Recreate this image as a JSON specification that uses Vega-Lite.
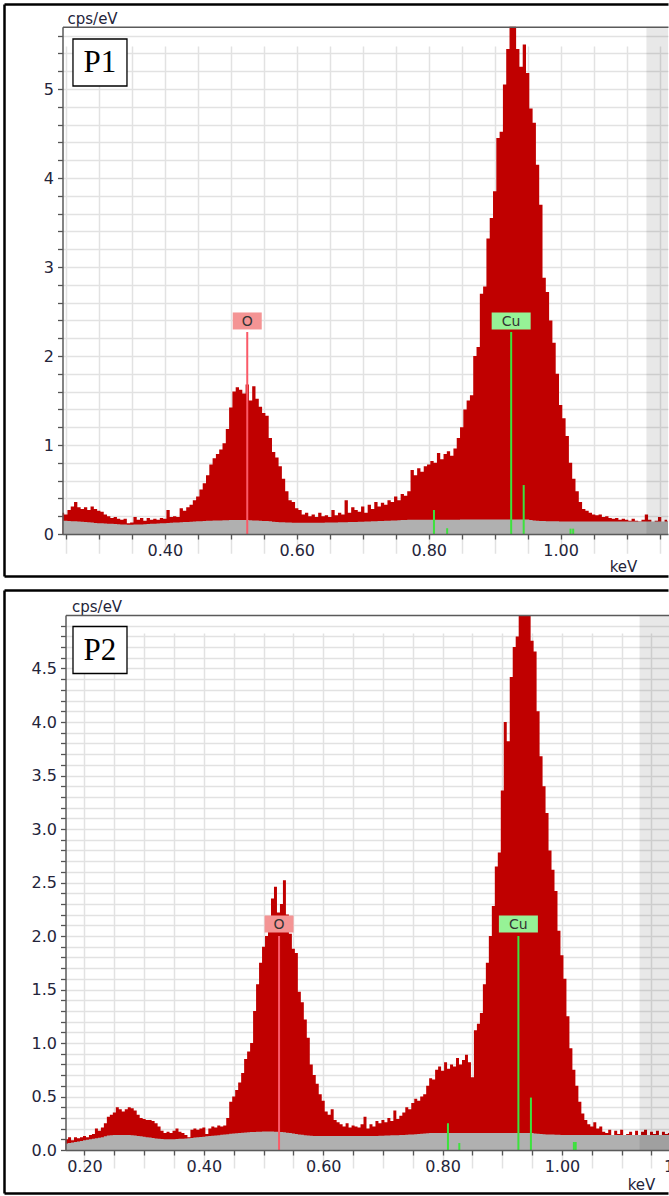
{
  "$schema": "https://vega.github.io/schema/vega-lite/v6.json",
  "padding": {"left": 1, "top": 4, "right": 0, "bottom": 0},
  "spacing": 14,
  "bounds": "flush",
  "config": {
    "view": {"stroke": null},
    "axis": {"labelFont": "DejaVu Sans", "labelFontSize": 16, "labelColor": "#24243a", "titleFont": "DejaVu Sans", "titleFontSize": 15, "titleFontWeight": "normal", "titleColor": "#24243a", "titlePadding": 0}
  },
  "datasets": {
    "p1": [
      {"e":0.245,"c":0.24,"b":0.150},{"e":0.250,"c":0.22,"b":0.148},{"e":0.255,"c":0.27,"b":0.146},{"e":0.260,"c":0.31,"b":0.144},{"e":0.265,"c":0.36,"b":0.142},{"e":0.270,"c":0.30,"b":0.140},{"e":0.275,"c":0.28,"b":0.137},{"e":0.280,"c":0.30,"b":0.134},{"e":0.285,"c":0.27,"b":0.131},{"e":0.290,"c":0.31,"b":0.128},{"e":0.295,"c":0.28,"b":0.125},{"e":0.300,"c":0.26,"b":0.122},{"e":0.305,"c":0.25,"b":0.120},{"e":0.310,"c":0.22,"b":0.118},{"e":0.315,"c":0.20,"b":0.116},{"e":0.320,"c":0.18,"b":0.114},{"e":0.325,"c":0.19,"b":0.112},{"e":0.330,"c":0.17,"b":0.110},{"e":0.335,"c":0.16,"b":0.108},{"e":0.340,"c":0.17,"b":0.106},{"e":0.345,"c":0.12,"b":0.105},{"e":0.350,"c":0.13,"b":0.105},{"e":0.355,"c":0.19,"b":0.106},{"e":0.360,"c":0.16,"b":0.107},{"e":0.365,"c":0.18,"b":0.108},{"e":0.370,"c":0.15,"b":0.110},{"e":0.375,"c":0.18,"b":0.112},{"e":0.380,"c":0.16,"b":0.114},{"e":0.385,"c":0.17,"b":0.116},{"e":0.390,"c":0.16,"b":0.118},{"e":0.395,"c":0.18,"b":0.120},{"e":0.400,"c":0.17,"b":0.122},{"e":0.405,"c":0.27,"b":0.124},{"e":0.410,"c":0.19,"b":0.126},{"e":0.415,"c":0.20,"b":0.128},{"e":0.420,"c":0.19,"b":0.130},{"e":0.425,"c":0.29,"b":0.132},{"e":0.430,"c":0.26,"b":0.134},{"e":0.435,"c":0.30,"b":0.136},{"e":0.440,"c":0.33,"b":0.138},{"e":0.445,"c":0.38,"b":0.140},{"e":0.450,"c":0.42,"b":0.142},{"e":0.455,"c":0.50,"b":0.144},{"e":0.460,"c":0.57,"b":0.146},{"e":0.465,"c":0.66,"b":0.148},{"e":0.470,"c":0.78,"b":0.150},{"e":0.475,"c":0.85,"b":0.151},{"e":0.480,"c":0.90,"b":0.152},{"e":0.485,"c":0.95,"b":0.153},{"e":0.490,"c":1.02,"b":0.154},{"e":0.495,"c":1.18,"b":0.155},{"e":0.500,"c":1.42,"b":0.156},{"e":0.505,"c":1.60,"b":0.156},{"e":0.510,"c":1.65,"b":0.157},{"e":0.515,"c":1.62,"b":0.157},{"e":0.520,"c":1.58,"b":0.157},{"e":0.525,"c":1.68,"b":0.156},{"e":0.530,"c":1.50,"b":0.155},{"e":0.535,"c":1.66,"b":0.153},{"e":0.540,"c":1.52,"b":0.151},{"e":0.545,"c":1.43,"b":0.149},{"e":0.550,"c":1.36,"b":0.147},{"e":0.555,"c":1.33,"b":0.145},{"e":0.560,"c":1.08,"b":0.142},{"e":0.565,"c":0.92,"b":0.139},{"e":0.570,"c":0.86,"b":0.136},{"e":0.575,"c":0.76,"b":0.133},{"e":0.580,"c":0.62,"b":0.131},{"e":0.585,"c":0.48,"b":0.129},{"e":0.590,"c":0.38,"b":0.128},{"e":0.595,"c":0.36,"b":0.127},{"e":0.600,"c":0.29,"b":0.126},{"e":0.605,"c":0.27,"b":0.126},{"e":0.610,"c":0.22,"b":0.126},{"e":0.615,"c":0.24,"b":0.126},{"e":0.620,"c":0.20,"b":0.126},{"e":0.625,"c":0.22,"b":0.126},{"e":0.630,"c":0.19,"b":0.127},{"e":0.635,"c":0.24,"b":0.127},{"e":0.640,"c":0.20,"b":0.127},{"e":0.645,"c":0.21,"b":0.128},{"e":0.650,"c":0.19,"b":0.128},{"e":0.655,"c":0.27,"b":0.129},{"e":0.660,"c":0.21,"b":0.130},{"e":0.665,"c":0.24,"b":0.131},{"e":0.670,"c":0.22,"b":0.132},{"e":0.675,"c":0.38,"b":0.133},{"e":0.680,"c":0.24,"b":0.134},{"e":0.685,"c":0.30,"b":0.135},{"e":0.690,"c":0.27,"b":0.136},{"e":0.695,"c":0.25,"b":0.137},{"e":0.700,"c":0.31,"b":0.138},{"e":0.705,"c":0.24,"b":0.140},{"e":0.710,"c":0.33,"b":0.141},{"e":0.715,"c":0.28,"b":0.143},{"e":0.720,"c":0.36,"b":0.144},{"e":0.725,"c":0.31,"b":0.146},{"e":0.730,"c":0.35,"b":0.147},{"e":0.735,"c":0.33,"b":0.149},{"e":0.740,"c":0.38,"b":0.150},{"e":0.745,"c":0.36,"b":0.152},{"e":0.750,"c":0.42,"b":0.153},{"e":0.755,"c":0.38,"b":0.155},{"e":0.760,"c":0.45,"b":0.157},{"e":0.765,"c":0.43,"b":0.158},{"e":0.770,"c":0.48,"b":0.159},{"e":0.775,"c":0.72,"b":0.160},{"e":0.780,"c":0.66,"b":0.160},{"e":0.785,"c":0.74,"b":0.160},{"e":0.790,"c":0.70,"b":0.160},{"e":0.795,"c":0.76,"b":0.160},{"e":0.800,"c":0.78,"b":0.160},{"e":0.805,"c":0.82,"b":0.160},{"e":0.810,"c":0.80,"b":0.161},{"e":0.815,"c":0.91,"b":0.161},{"e":0.820,"c":0.84,"b":0.161},{"e":0.825,"c":0.90,"b":0.161},{"e":0.830,"c":0.93,"b":0.161},{"e":0.835,"c":0.88,"b":0.161},{"e":0.840,"c":0.96,"b":0.161},{"e":0.845,"c":1.08,"b":0.161},{"e":0.850,"c":1.20,"b":0.162},{"e":0.855,"c":1.40,"b":0.162},{"e":0.860,"c":1.50,"b":0.162},{"e":0.865,"c":1.56,"b":0.162},{"e":0.870,"c":2.00,"b":0.162},{"e":0.875,"c":2.10,"b":0.162},{"e":0.880,"c":2.70,"b":0.162},{"e":0.885,"c":2.78,"b":0.162},{"e":0.890,"c":3.32,"b":0.162},{"e":0.895,"c":3.55,"b":0.162},{"e":0.900,"c":3.85,"b":0.162},{"e":0.905,"c":4.45,"b":0.162},{"e":0.910,"c":4.52,"b":0.162},{"e":0.915,"c":5.05,"b":0.162},{"e":0.920,"c":5.45,"b":0.162},{"e":0.925,"c":5.90,"b":0.162},{"e":0.930,"c":5.80,"b":0.162},{"e":0.935,"c":5.45,"b":0.162},{"e":0.940,"c":5.25,"b":0.162},{"e":0.945,"c":5.50,"b":0.162},{"e":0.950,"c":5.18,"b":0.162},{"e":0.955,"c":4.78,"b":0.158},{"e":0.960,"c":4.62,"b":0.152},{"e":0.965,"c":4.15,"b":0.148},{"e":0.970,"c":3.70,"b":0.146},{"e":0.975,"c":2.88,"b":0.145},{"e":0.980,"c":2.72,"b":0.144},{"e":0.985,"c":2.40,"b":0.143},{"e":0.990,"c":2.15,"b":0.142},{"e":0.995,"c":1.80,"b":0.142},{"e":1.000,"c":1.45,"b":0.141},{"e":1.005,"c":1.30,"b":0.141},{"e":1.010,"c":1.10,"b":0.141},{"e":1.015,"c":0.80,"b":0.140},{"e":1.020,"c":0.62,"b":0.140},{"e":1.025,"c":0.48,"b":0.140},{"e":1.030,"c":0.36,"b":0.140},{"e":1.035,"c":0.28,"b":0.140},{"e":1.040,"c":0.26,"b":0.140},{"e":1.045,"c":0.24,"b":0.140},{"e":1.050,"c":0.22,"b":0.140},{"e":1.055,"c":0.21,"b":0.140},{"e":1.060,"c":0.22,"b":0.140},{"e":1.065,"c":0.19,"b":0.140},{"e":1.070,"c":0.20,"b":0.140},{"e":1.075,"c":0.18,"b":0.140},{"e":1.080,"c":0.17,"b":0.140},{"e":1.085,"c":0.18,"b":0.140},{"e":1.090,"c":0.16,"b":0.140},{"e":1.095,"c":0.17,"b":0.140},{"e":1.100,"c":0.16,"b":0.140},{"e":1.105,"c":0.15,"b":0.140},{"e":1.110,"c":0.17,"b":0.140},{"e":1.115,"c":0.15,"b":0.140},{"e":1.120,"c":0.14,"b":0.140},{"e":1.125,"c":0.16,"b":0.140},{"e":1.130,"c":0.22,"b":0.140},{"e":1.135,"c":0.16,"b":0.140},{"e":1.140,"c":0.12,"b":0.140},{"e":1.145,"c":0.15,"b":0.140},{"e":1.150,"c":0.19,"b":0.140},{"e":1.155,"c":0.13,"b":0.140},{"e":1.160,"c":0.16,"b":0.140},{"e":1.165,"c":0.14,"b":0.140}
    ],
    "p2": [
      {"e":0.165,"c":0.10,"b":0.055},{"e":0.170,"c":0.10,"b":0.060},{"e":0.175,"c":0.12,"b":0.065},{"e":0.180,"c":0.09,"b":0.070},{"e":0.185,"c":0.12,"b":0.075},{"e":0.190,"c":0.11,"b":0.080},{"e":0.195,"c":0.12,"b":0.085},{"e":0.200,"c":0.13,"b":0.090},{"e":0.205,"c":0.12,"b":0.095},{"e":0.210,"c":0.14,"b":0.100},{"e":0.215,"c":0.15,"b":0.105},{"e":0.220,"c":0.20,"b":0.110},{"e":0.225,"c":0.18,"b":0.115},{"e":0.230,"c":0.21,"b":0.120},{"e":0.235,"c":0.25,"b":0.128},{"e":0.240,"c":0.31,"b":0.135},{"e":0.245,"c":0.33,"b":0.138},{"e":0.250,"c":0.35,"b":0.140},{"e":0.255,"c":0.40,"b":0.140},{"e":0.260,"c":0.38,"b":0.140},{"e":0.265,"c":0.36,"b":0.140},{"e":0.270,"c":0.38,"b":0.140},{"e":0.275,"c":0.40,"b":0.140},{"e":0.280,"c":0.39,"b":0.138},{"e":0.285,"c":0.37,"b":0.135},{"e":0.290,"c":0.33,"b":0.132},{"e":0.295,"c":0.30,"b":0.128},{"e":0.300,"c":0.29,"b":0.124},{"e":0.305,"c":0.28,"b":0.120},{"e":0.310,"c":0.28,"b":0.116},{"e":0.315,"c":0.27,"b":0.112},{"e":0.320,"c":0.25,"b":0.108},{"e":0.325,"c":0.22,"b":0.105},{"e":0.330,"c":0.18,"b":0.102},{"e":0.335,"c":0.16,"b":0.100},{"e":0.340,"c":0.17,"b":0.100},{"e":0.345,"c":0.16,"b":0.100},{"e":0.350,"c":0.18,"b":0.101},{"e":0.355,"c":0.20,"b":0.102},{"e":0.360,"c":0.17,"b":0.104},{"e":0.365,"c":0.16,"b":0.106},{"e":0.370,"c":0.14,"b":0.108},{"e":0.375,"c":0.12,"b":0.110},{"e":0.380,"c":0.19,"b":0.113},{"e":0.385,"c":0.20,"b":0.116},{"e":0.390,"c":0.19,"b":0.119},{"e":0.395,"c":0.20,"b":0.122},{"e":0.400,"c":0.21,"b":0.125},{"e":0.405,"c":0.15,"b":0.128},{"e":0.410,"c":0.20,"b":0.131},{"e":0.415,"c":0.22,"b":0.134},{"e":0.420,"c":0.21,"b":0.136},{"e":0.425,"c":0.23,"b":0.139},{"e":0.430,"c":0.22,"b":0.142},{"e":0.435,"c":0.23,"b":0.145},{"e":0.440,"c":0.30,"b":0.148},{"e":0.445,"c":0.45,"b":0.151},{"e":0.450,"c":0.50,"b":0.154},{"e":0.455,"c":0.56,"b":0.157},{"e":0.460,"c":0.63,"b":0.160},{"e":0.465,"c":0.72,"b":0.162},{"e":0.470,"c":0.85,"b":0.164},{"e":0.475,"c":0.92,"b":0.166},{"e":0.480,"c":1.00,"b":0.168},{"e":0.485,"c":1.30,"b":0.169},{"e":0.490,"c":1.55,"b":0.170},{"e":0.495,"c":1.75,"b":0.171},{"e":0.500,"c":1.90,"b":0.172},{"e":0.505,"c":2.00,"b":0.172},{"e":0.510,"c":2.08,"b":0.172},{"e":0.515,"c":2.35,"b":0.172},{"e":0.520,"c":2.46,"b":0.171},{"e":0.525,"c":2.22,"b":0.170},{"e":0.530,"c":2.30,"b":0.168},{"e":0.535,"c":2.52,"b":0.165},{"e":0.540,"c":2.20,"b":0.162},{"e":0.545,"c":2.02,"b":0.158},{"e":0.550,"c":1.88,"b":0.154},{"e":0.555,"c":1.84,"b":0.150},{"e":0.560,"c":1.48,"b":0.146},{"e":0.565,"c":1.38,"b":0.142},{"e":0.570,"c":1.22,"b":0.139},{"e":0.575,"c":1.05,"b":0.136},{"e":0.580,"c":0.80,"b":0.134},{"e":0.585,"c":0.70,"b":0.132},{"e":0.590,"c":0.62,"b":0.131},{"e":0.595,"c":0.52,"b":0.130},{"e":0.600,"c":0.46,"b":0.130},{"e":0.605,"c":0.36,"b":0.130},{"e":0.610,"c":0.33,"b":0.130},{"e":0.615,"c":0.38,"b":0.130},{"e":0.620,"c":0.28,"b":0.130},{"e":0.625,"c":0.26,"b":0.130},{"e":0.630,"c":0.24,"b":0.130},{"e":0.635,"c":0.22,"b":0.130},{"e":0.640,"c":0.25,"b":0.130},{"e":0.645,"c":0.21,"b":0.130},{"e":0.650,"c":0.23,"b":0.130},{"e":0.655,"c":0.22,"b":0.130},{"e":0.660,"c":0.21,"b":0.130},{"e":0.665,"c":0.24,"b":0.130},{"e":0.670,"c":0.31,"b":0.130},{"e":0.675,"c":0.20,"b":0.131},{"e":0.680,"c":0.24,"b":0.131},{"e":0.685,"c":0.22,"b":0.132},{"e":0.690,"c":0.27,"b":0.132},{"e":0.695,"c":0.25,"b":0.133},{"e":0.700,"c":0.28,"b":0.134},{"e":0.705,"c":0.26,"b":0.135},{"e":0.710,"c":0.30,"b":0.136},{"e":0.715,"c":0.27,"b":0.137},{"e":0.720,"c":0.37,"b":0.138},{"e":0.725,"c":0.29,"b":0.139},{"e":0.730,"c":0.32,"b":0.140},{"e":0.735,"c":0.35,"b":0.141},{"e":0.740,"c":0.40,"b":0.142},{"e":0.745,"c":0.38,"b":0.144},{"e":0.750,"c":0.44,"b":0.146},{"e":0.755,"c":0.48,"b":0.148},{"e":0.760,"c":0.46,"b":0.150},{"e":0.765,"c":0.50,"b":0.152},{"e":0.770,"c":0.52,"b":0.154},{"e":0.775,"c":0.60,"b":0.156},{"e":0.780,"c":0.67,"b":0.158},{"e":0.785,"c":0.66,"b":0.160},{"e":0.790,"c":0.75,"b":0.160},{"e":0.795,"c":0.78,"b":0.160},{"e":0.800,"c":0.74,"b":0.160},{"e":0.805,"c":0.82,"b":0.160},{"e":0.810,"c":0.76,"b":0.160},{"e":0.815,"c":0.80,"b":0.160},{"e":0.820,"c":0.78,"b":0.160},{"e":0.825,"c":0.86,"b":0.160},{"e":0.830,"c":0.80,"b":0.160},{"e":0.835,"c":0.84,"b":0.160},{"e":0.840,"c":0.89,"b":0.160},{"e":0.845,"c":0.82,"b":0.160},{"e":0.850,"c":0.68,"b":0.160},{"e":0.855,"c":1.12,"b":0.160},{"e":0.860,"c":1.18,"b":0.160},{"e":0.865,"c":1.28,"b":0.160},{"e":0.870,"c":1.55,"b":0.160},{"e":0.875,"c":1.75,"b":0.160},{"e":0.880,"c":2.00,"b":0.160},{"e":0.885,"c":2.28,"b":0.160},{"e":0.890,"c":2.65,"b":0.160},{"e":0.895,"c":2.78,"b":0.160},{"e":0.900,"c":3.36,"b":0.160},{"e":0.905,"c":4.00,"b":0.160},{"e":0.910,"c":3.82,"b":0.160},{"e":0.915,"c":4.42,"b":0.160},{"e":0.920,"c":4.70,"b":0.160},{"e":0.925,"c":4.80,"b":0.160},{"e":0.930,"c":5.20,"b":0.160},{"e":0.935,"c":5.30,"b":0.160},{"e":0.940,"c":5.20,"b":0.160},{"e":0.945,"c":5.10,"b":0.160},{"e":0.950,"c":4.76,"b":0.158},{"e":0.955,"c":4.66,"b":0.155},{"e":0.960,"c":4.10,"b":0.152},{"e":0.965,"c":3.68,"b":0.150},{"e":0.970,"c":3.40,"b":0.148},{"e":0.975,"c":3.15,"b":0.146},{"e":0.980,"c":2.80,"b":0.145},{"e":0.985,"c":2.62,"b":0.144},{"e":0.990,"c":2.42,"b":0.143},{"e":0.995,"c":2.05,"b":0.142},{"e":1.000,"c":1.82,"b":0.141},{"e":1.005,"c":1.60,"b":0.141},{"e":1.010,"c":1.25,"b":0.140},{"e":1.015,"c":0.95,"b":0.140},{"e":1.020,"c":0.75,"b":0.140},{"e":1.025,"c":0.60,"b":0.140},{"e":1.030,"c":0.45,"b":0.140},{"e":1.035,"c":0.34,"b":0.140},{"e":1.040,"c":0.28,"b":0.140},{"e":1.045,"c":0.24,"b":0.140},{"e":1.050,"c":0.22,"b":0.140},{"e":1.055,"c":0.26,"b":0.140},{"e":1.060,"c":0.20,"b":0.140},{"e":1.065,"c":0.22,"b":0.140},{"e":1.070,"c":0.17,"b":0.140},{"e":1.075,"c":0.16,"b":0.140},{"e":1.080,"c":0.19,"b":0.140},{"e":1.085,"c":0.13,"b":0.140},{"e":1.090,"c":0.18,"b":0.140},{"e":1.095,"c":0.15,"b":0.140},{"e":1.100,"c":0.19,"b":0.140},{"e":1.105,"c":0.13,"b":0.140},{"e":1.110,"c":0.15,"b":0.140},{"e":1.115,"c":0.17,"b":0.140},{"e":1.120,"c":0.12,"b":0.140},{"e":1.125,"c":0.18,"b":0.140},{"e":1.130,"c":0.14,"b":0.140},{"e":1.135,"c":0.17,"b":0.140},{"e":1.140,"c":0.19,"b":0.140},{"e":1.145,"c":0.13,"b":0.140},{"e":1.150,"c":0.17,"b":0.140},{"e":1.155,"c":0.15,"b":0.140},{"e":1.160,"c":0.18,"b":0.140},{"e":1.165,"c":0.14,"b":0.140},{"e":1.170,"c":0.17,"b":0.140},{"e":1.175,"c":0.15,"b":0.140},{"e":1.180,"c":0.16,"b":0.140}
    ],
    "el1": [
      {"e":0.525,"h":2.27,"el":"O","lab":"O"},{"e":0.925,"h":2.27,"el":"Cu","lab":"Cu"},{"e":0.808,"h":0.27,"el":"Cu","lab":""},{"e":0.828,"h":0.065,"el":"Cu","lab":""},{"e":0.944,"h":0.55,"el":"Cu","lab":""},{"e":1.015,"h":0.06,"el":"Cu","lab":""},{"e":1.019,"h":0.06,"el":"Cu","lab":""}
    ],
    "el2": [
      {"e":0.526,"h":2.0,"el":"O","lab":"O"},{"e":0.927,"h":2.0,"el":"Cu","lab":"Cu"},{"e":0.809,"h":0.25,"el":"Cu","lab":""},{"e":0.828,"h":0.065,"el":"Cu","lab":""},{"e":0.948,"h":0.49,"el":"Cu","lab":""},{"e":1.020,"h":0.075,"el":"Cu","lab":""},{"e":1.023,"h":0.075,"el":"Cu","lab":""}
    ]
  },
  "vconcat": [
    {
      "width": 664,
      "height": 572,
      "resolve": {"scale": {"x": "independent", "y": "independent", "color": "independent"}, "axis": {"x": "independent", "y": "independent"}},
      "layer": [
        {
          "data": {"name": "p1"},
          "mark": {"type": "area", "interpolate": "step", "color": "#c00000"},
          "encoding": {
            "x": {"field": "e", "type": "quantitative", "scale": {"domain": [0.245, 1.1627], "range": [58.5, 664], "clamp": true, "nice": false, "zero": false},
              "axis": {"orient": "bottom", "offset": -42, "values": [0.25,0.3,0.35,0.4,0.45,0.5,0.55,0.6,0.65,0.7,0.75,0.8,0.85,0.9,0.95,1,1.05,1.1,1.15], "format": ".2f", "labelExpr": "round(datum.value*100) % 20 === 0 ? datum.label : ''", "grid": true, "gridColor": "#e2e2e2", "gridWidth": 1.5, "domain": false, "tickSize": 5, "tickColor": "#555555", "tickWidth": 1.3, "labelPadding": 3, "labelFlush": false, "labelOverlap": false, "labelBound": false, "title": "keV", "titleX": 619, "titleY": 37, "titleAlign": "center", "titleBaseline": "alphabetic", "titleAngle": 0, "zindex": 0}},
            "y": {"field": "c", "type": "quantitative", "scale": {"domain": [0, 5.7], "range": [530, 22.7], "clamp": true, "nice": false, "zero": false},
              "axis": {"orient": "left", "offset": -58.5, "values": [0,0.2,0.4,0.6,0.8,1,1.2,1.4,1.6,1.8,2,2.2,2.4,2.6,2.8,3,3.2,3.4,3.6,3.8,4,4.2,4.4,4.6,4.8,5,5.2,5.4,5.6], "format": ".0f", "labelExpr": "datum.value % 1 === 0 ? datum.label : ''", "grid": true, "gridColor": "#e2e2e2", "gridWidth": 1.5, "domain": false, "tickSize": 5, "tickColor": "#555555", "tickWidth": 1.3, "labelPadding": 4, "labelOverlap": false, "labelBound": false, "labelFlush": false, "title": "cps/eV", "titleX": 4.5, "titleY": 19, "titleAlign": "left", "titleBaseline": "alphabetic", "titleAngle": 0, "zindex": 0}},
            "y2": {"datum": 0}
          }
        },
        {
          "data": {"name": "p1"},
          "mark": {"type": "area", "interpolate": "step", "color": "#b0b0b0"},
          "encoding": {
            "x": {"field": "e", "type": "quantitative", "scale": {"domain": [0.245, 1.1627], "range": [58.5, 664], "clamp": true, "nice": false, "zero": false},
              "axis": {"orient": "top", "offset": -22.7, "domain": true, "domainColor": "#5a5a5a", "domainWidth": 1.5, "ticks": false, "labels": false, "grid": false, "title": null, "zindex": 1}},
            "y": {"field": "b", "type": "quantitative", "scale": {"domain": [0, 5.7], "range": [530, 22.7], "clamp": true, "nice": false, "zero": false},
              "axis": {"orient": "left", "offset": -58.5, "domain": true, "domainColor": "#5a5a5a", "domainWidth": 1.5, "ticks": false, "labels": false, "grid": false, "title": null, "zindex": 1}},
            "y2": {"datum": 0}
          }
        },
        {
          "data": {"values": [{"a": 1.13, "z": 1.25}]},
          "mark": {"type": "rect", "color": "#000000", "opacity": 0.09},
          "encoding": {
            "x": {"field": "a", "type": "quantitative", "scale": {"domain": [0.245, 1.1627], "range": [58.5, 664], "clamp": true, "nice": false, "zero": false},
              "axis": {"orient": "bottom", "offset": -42, "domain": true, "domainColor": "#5a5a5a", "domainWidth": 1.5, "ticks": false, "labels": false, "grid": false, "title": null, "zindex": 1}},
            "x2": {"field": "z"},
            "y": {"datum": 0, "scale": {"domain": [0, 5.7], "range": [530, 22.7], "clamp": true, "nice": false, "zero": false}, "axis": null},
            "y2": {"datum": 5.7}
          }
        },
        {
          "data": {"name": "el1"},
          "mark": {"type": "rule", "strokeWidth": 2},
          "encoding": {
            "x": {"field": "e", "type": "quantitative", "scale": {"domain": [0.245, 1.1627], "range": [58.5, 664], "clamp": true, "nice": false, "zero": false}, "axis": null},
            "y": {"field": "h", "type": "quantitative", "scale": {"domain": [0, 5.7], "range": [530, 22.7], "clamp": true, "nice": false, "zero": false}, "axis": null},
            "y2": {"datum": 0},
            "color": {"field": "el", "type": "nominal", "scale": {"domain": ["O", "Cu"], "range": ["#fa5a68", "#3de23d"]}, "legend": null}
          }
        },
        {
          "data": {"name": "el1"},
          "transform": [{"filter": "datum.lab !== ''"}],
          "mark": {"type": "point", "filled": true, "opacity": 1, "size": 400, "yOffset": -11},
          "encoding": {
            "x": {"field": "e", "type": "quantitative", "scale": {"domain": [0.245, 1.1627], "range": [58.5, 664], "clamp": true, "nice": false, "zero": false}, "axis": null},
            "y": {"field": "h", "type": "quantitative", "scale": {"domain": [0, 5.7], "range": [530, 22.7], "clamp": true, "nice": false, "zero": false}, "axis": null},
            "shape": {"field": "el", "type": "nominal", "scale": {"domain": ["O", "Cu"], "range": ["M-1.45,-0.85H1.45V0.85H-1.45Z", "M-1.95,-0.85H1.95V0.85H-1.95Z"]}, "legend": null},
            "color": {"field": "el", "type": "nominal", "scale": {"domain": ["O", "Cu"], "range": ["#f49494", "#96f296"]}, "legend": null}
          }
        },
        {
          "data": {"name": "el1"},
          "transform": [{"filter": "datum.lab !== ''"}],
          "mark": {"type": "text", "yOffset": -10, "baseline": "middle", "align": "center", "font": "DejaVu Sans", "fontSize": 14, "color": "#333333"},
          "encoding": {
            "x": {"field": "e", "type": "quantitative", "scale": {"domain": [0.245, 1.1627], "range": [58.5, 664], "clamp": true, "nice": false, "zero": false}, "axis": null},
            "y": {"field": "h", "type": "quantitative", "scale": {"domain": [0, 5.7], "range": [530, 22.7], "clamp": true, "nice": false, "zero": false}, "axis": null},
            "text": {"field": "lab"}
          }
        },
        {
          "data": {"values": [{"t": "P1"}]},
          "mark": {"type": "point", "shape": "M-2.7,-2.35H2.7V2.35H-2.7Z", "size": 400, "filled": true, "fill": "#ffffff", "stroke": "#000000", "strokeWidth": 1.3, "opacity": 1},
          "encoding": {
            "x": {"datum": 0.3018, "type": "quantitative", "scale": {"domain": [0.245, 1.1627], "range": [58.5, 664], "clamp": true, "nice": false, "zero": false}, "axis": null},
            "y": {"datum": 5.298, "type": "quantitative", "scale": {"domain": [0, 5.7], "range": [530, 22.7], "clamp": true, "nice": false, "zero": false}, "axis": null}
          }
        },
        {
          "data": {"values": [{"t": "P1"}]},
          "mark": {"type": "text", "font": "Liberation Serif", "fontSize": 31, "baseline": "middle", "align": "center", "color": "#000000", "dy": 1},
          "encoding": {
            "x": {"datum": 0.3018, "type": "quantitative", "scale": {"domain": [0.245, 1.1627], "range": [58.5, 664], "clamp": true, "nice": false, "zero": false}, "axis": null},
            "y": {"datum": 5.298, "type": "quantitative", "scale": {"domain": [0, 5.7], "range": [530, 22.7], "clamp": true, "nice": false, "zero": false}, "axis": null},
            "text": {"field": "t"}
          }
        },
        {
          "data": {"values": [{"f": 0}]},
          "mark": {"type": "point", "opacity": 0},
          "encoding": {
            "x": {"field": "f", "type": "quantitative", "scale": {"domain": [0, 1], "range": [0, 664], "nice": false, "zero": false},
              "axis": {"orient": "bottom", "offset": 0, "domain": true, "domainColor": "#000000", "domainWidth": 2.5, "ticks": false, "labels": false, "grid": false, "title": null, "zindex": 2}},
            "y": {"field": "f", "type": "quantitative", "scale": {"domain": [0, 1], "range": [572, 0], "nice": false, "zero": false},
              "axis": {"orient": "left", "offset": 0, "domain": true, "domainColor": "#000000", "domainWidth": 2.5, "ticks": false, "labels": false, "grid": false, "title": null, "zindex": 2}}
          }
        },
        {
          "data": {"values": [{"f": 0}]},
          "mark": {"type": "point", "opacity": 0},
          "encoding": {
            "x": {"field": "f", "type": "quantitative", "scale": {"domain": [0, 1], "range": [0, 664], "nice": false, "zero": false},
              "axis": {"orient": "top", "offset": 0, "domain": true, "domainColor": "#000000", "domainWidth": 2.5, "ticks": false, "labels": false, "grid": false, "title": null, "zindex": 2}},
            "y": {"field": "f", "type": "quantitative", "scale": {"domain": [0, 1], "range": [572, 0], "nice": false, "zero": false}, "axis": null}
          }
        }
      ]
    },
    {
      "width": 664,
      "height": 603,
      "resolve": {"scale": {"x": "independent", "y": "independent", "color": "independent"}, "axis": {"x": "independent", "y": "independent"}},
      "layer": [
        {
          "data": {"name": "p2"},
          "mark": {"type": "area", "interpolate": "step", "color": "#c00000"},
          "encoding": {
            "x": {"field": "e", "type": "quantitative", "scale": {"domain": [0.1682, 1.21], "range": [61.5, 683.3], "clamp": true, "nice": false, "zero": false},
              "axis": {"orient": "bottom", "offset": -43, "values": [0.2,0.25,0.3,0.35,0.4,0.45,0.5,0.55,0.6,0.65,0.7,0.75,0.8,0.85,0.9,0.95,1,1.05,1.1,1.15,1.2], "format": ".2f", "labelExpr": "round(datum.value*100) % 20 === 0 ? datum.label : ''", "grid": true, "gridColor": "#e2e2e2", "gridWidth": 1.5, "domain": false, "tickSize": 5, "tickColor": "#555555", "tickWidth": 1.3, "labelPadding": 3, "labelFlush": false, "labelOverlap": false, "labelBound": false, "title": "keV", "titleX": 637, "titleY": 39, "titleAlign": "center", "titleBaseline": "alphabetic", "titleAngle": 0, "zindex": 0}},
            "y": {"field": "c", "type": "quantitative", "scale": {"domain": [0, 5], "range": [560, 25], "clamp": true, "nice": false, "zero": false},
              "axis": {"orient": "left", "offset": -61.5, "values": [0,0.1,0.2,0.3,0.4,0.5,0.6,0.7,0.8,0.9,1,1.1,1.2,1.3,1.4,1.5,1.6,1.7,1.8,1.9,2,2.1,2.2,2.3,2.4,2.5,2.6,2.7,2.8,2.9,3,3.1,3.2,3.3,3.4,3.5,3.6,3.7,3.8,3.9,4,4.1,4.2,4.3,4.4,4.5,4.6,4.7,4.8,4.9], "format": ".1f", "labelExpr": "round(datum.value*10) % 5 === 0 ? datum.label : ''", "grid": true, "gridColor": "#e2e2e2", "gridWidth": 1.5, "domain": false, "tickSize": 5, "tickColor": "#555555", "tickWidth": 1.3, "labelPadding": 4, "labelOverlap": false, "labelBound": false, "labelFlush": false, "title": "cps/eV", "titleX": 6, "titleY": 21, "titleAlign": "left", "titleBaseline": "alphabetic", "titleAngle": 0, "zindex": 0}},
            "y2": {"datum": 0}
          }
        },
        {
          "data": {"name": "p2"},
          "mark": {"type": "area", "interpolate": "step", "color": "#b0b0b0"},
          "encoding": {
            "x": {"field": "e", "type": "quantitative", "scale": {"domain": [0.1682, 1.21], "range": [61.5, 683.3], "clamp": true, "nice": false, "zero": false},
              "axis": {"orient": "top", "offset": -25, "domain": true, "domainColor": "#5a5a5a", "domainWidth": 1.5, "ticks": false, "labels": false, "grid": false, "title": null, "zindex": 1}},
            "y": {"field": "b", "type": "quantitative", "scale": {"domain": [0, 5], "range": [560, 25], "clamp": true, "nice": false, "zero": false},
              "axis": {"orient": "left", "offset": -61.5, "domain": true, "domainColor": "#5a5a5a", "domainWidth": 1.5, "ticks": false, "labels": false, "grid": false, "title": null, "zindex": 1}},
            "y2": {"datum": 0}
          }
        },
        {
          "data": {"values": [{"a": 1.13, "z": 1.25}]},
          "mark": {"type": "rect", "color": "#000000", "opacity": 0.09},
          "encoding": {
            "x": {"field": "a", "type": "quantitative", "scale": {"domain": [0.1682, 1.21], "range": [61.5, 683.3], "clamp": true, "nice": false, "zero": false},
              "axis": {"orient": "bottom", "offset": -43, "domain": true, "domainColor": "#5a5a5a", "domainWidth": 1.5, "ticks": false, "labels": false, "grid": false, "title": null, "zindex": 1}},
            "x2": {"field": "z"},
            "y": {"datum": 0, "scale": {"domain": [0, 5], "range": [560, 25], "clamp": true, "nice": false, "zero": false}, "axis": null},
            "y2": {"datum": 5}
          }
        },
        {
          "data": {"name": "el2"},
          "mark": {"type": "rule", "strokeWidth": 2},
          "encoding": {
            "x": {"field": "e", "type": "quantitative", "scale": {"domain": [0.1682, 1.21], "range": [61.5, 683.3], "clamp": true, "nice": false, "zero": false}, "axis": null},
            "y": {"field": "h", "type": "quantitative", "scale": {"domain": [0, 5], "range": [560, 25], "clamp": true, "nice": false, "zero": false}, "axis": null},
            "y2": {"datum": 0},
            "color": {"field": "el", "type": "nominal", "scale": {"domain": ["O", "Cu"], "range": ["#fa5a68", "#3de23d"]}, "legend": null}
          }
        },
        {
          "data": {"name": "el2"},
          "transform": [{"filter": "datum.lab !== ''"}],
          "mark": {"type": "point", "filled": true, "opacity": 1, "size": 400, "yOffset": -12},
          "encoding": {
            "x": {"field": "e", "type": "quantitative", "scale": {"domain": [0.1682, 1.21], "range": [61.5, 683.3], "clamp": true, "nice": false, "zero": false}, "axis": null},
            "y": {"field": "h", "type": "quantitative", "scale": {"domain": [0, 5], "range": [560, 25], "clamp": true, "nice": false, "zero": false}, "axis": null},
            "shape": {"field": "el", "type": "nominal", "scale": {"domain": ["O", "Cu"], "range": ["M-1.5,-0.85H1.5V0.85H-1.5Z", "M-1.95,-0.85H1.95V0.85H-1.95Z"]}, "legend": null},
            "color": {"field": "el", "type": "nominal", "scale": {"domain": ["O", "Cu"], "range": ["#f49494", "#96f296"]}, "legend": null}
          }
        },
        {
          "data": {"name": "el2"},
          "transform": [{"filter": "datum.lab !== ''"}],
          "mark": {"type": "text", "yOffset": -11, "baseline": "middle", "align": "center", "font": "DejaVu Sans", "fontSize": 14, "color": "#333333"},
          "encoding": {
            "x": {"field": "e", "type": "quantitative", "scale": {"domain": [0.1682, 1.21], "range": [61.5, 683.3], "clamp": true, "nice": false, "zero": false}, "axis": null},
            "y": {"field": "h", "type": "quantitative", "scale": {"domain": [0, 5], "range": [560, 25], "clamp": true, "nice": false, "zero": false}, "axis": null},
            "text": {"field": "lab"}
          }
        },
        {
          "data": {"values": [{"t": "P2"}]},
          "mark": {"type": "point", "shape": "M-2.7,-2.35H2.7V2.35H-2.7Z", "size": 400, "filled": true, "fill": "#ffffff", "stroke": "#000000", "strokeWidth": 1.3, "opacity": 1},
          "encoding": {
            "x": {"datum": 0.226, "type": "quantitative", "scale": {"domain": [0.1682, 1.21], "range": [61.5, 683.3], "clamp": true, "nice": false, "zero": false}, "axis": null},
            "y": {"datum": 4.673, "type": "quantitative", "scale": {"domain": [0, 5], "range": [560, 25], "clamp": true, "nice": false, "zero": false}, "axis": null}
          }
        },
        {
          "data": {"values": [{"t": "P2"}]},
          "mark": {"type": "text", "font": "Liberation Serif", "fontSize": 31, "baseline": "middle", "align": "center", "color": "#000000", "dy": 1},
          "encoding": {
            "x": {"datum": 0.226, "type": "quantitative", "scale": {"domain": [0.1682, 1.21], "range": [61.5, 683.3], "clamp": true, "nice": false, "zero": false}, "axis": null},
            "y": {"datum": 4.673, "type": "quantitative", "scale": {"domain": [0, 5], "range": [560, 25], "clamp": true, "nice": false, "zero": false}, "axis": null},
            "text": {"field": "t"}
          }
        },
        {
          "data": {"values": [{"f": 0}]},
          "mark": {"type": "point", "opacity": 0},
          "encoding": {
            "x": {"field": "f", "type": "quantitative", "scale": {"domain": [0, 1], "range": [0, 664], "nice": false, "zero": false},
              "axis": {"orient": "bottom", "offset": 0, "domain": true, "domainColor": "#000000", "domainWidth": 2.5, "ticks": false, "labels": false, "grid": false, "title": null, "zindex": 2}},
            "y": {"field": "f", "type": "quantitative", "scale": {"domain": [0, 1], "range": [603, 0], "nice": false, "zero": false},
              "axis": {"orient": "left", "offset": 0, "domain": true, "domainColor": "#000000", "domainWidth": 2.5, "ticks": false, "labels": false, "grid": false, "title": null, "zindex": 2}}
          }
        },
        {
          "data": {"values": [{"f": 0}]},
          "mark": {"type": "point", "opacity": 0},
          "encoding": {
            "x": {"field": "f", "type": "quantitative", "scale": {"domain": [0, 1], "range": [0, 664], "nice": false, "zero": false},
              "axis": {"orient": "top", "offset": 0, "domain": true, "domainColor": "#000000", "domainWidth": 2.5, "ticks": false, "labels": false, "grid": false, "title": null, "zindex": 2}},
            "y": {"field": "f", "type": "quantitative", "scale": {"domain": [0, 1], "range": [603, 0], "nice": false, "zero": false}, "axis": null}
          }
        }
      ]
    }
  ]
}
